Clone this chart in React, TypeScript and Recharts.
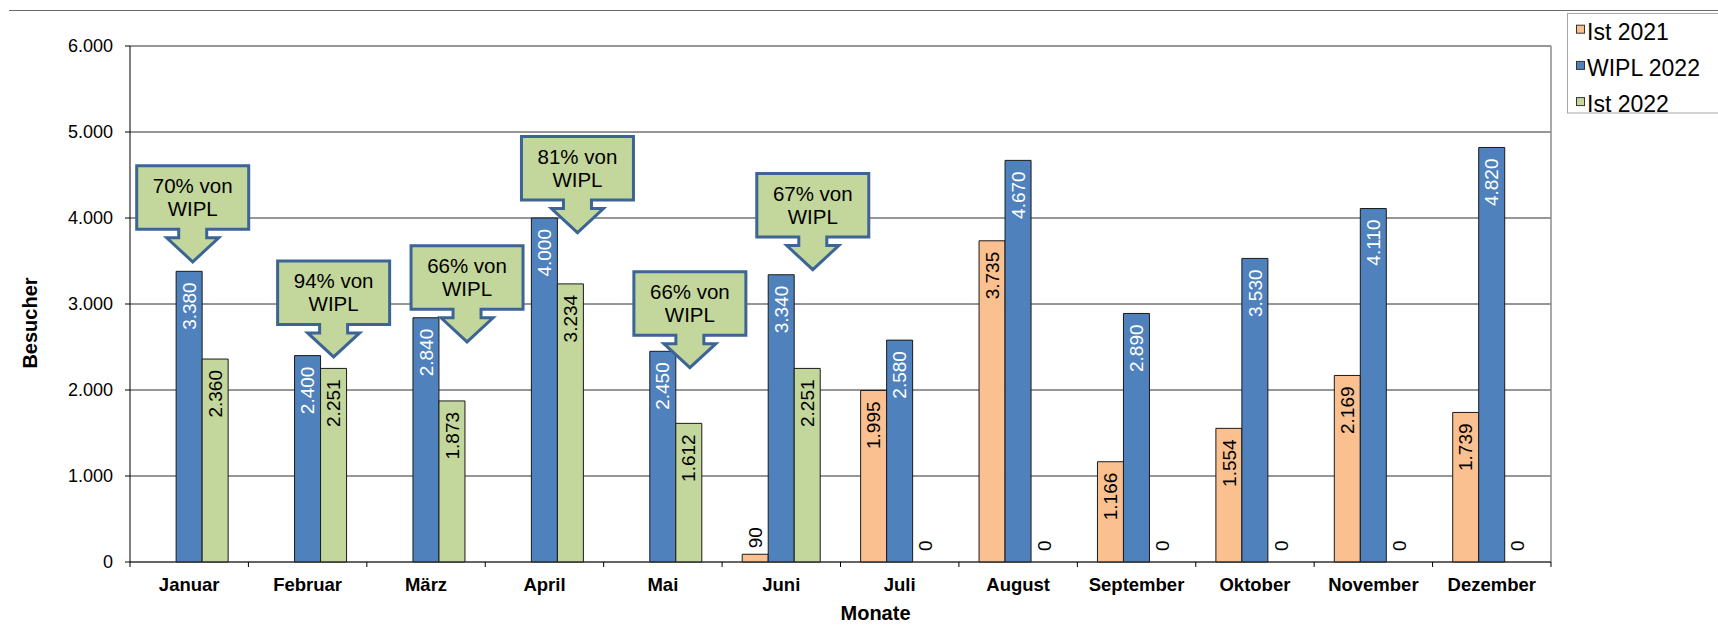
import React from 'react';
import { BarChart, Bar, XAxis, YAxis, CartesianGrid, LabelList, ReferenceDot, Label } from 'recharts';

// ---------- data ----------
const months = ['Januar', 'Februar', 'März', 'April', 'Mai', 'Juni', 'Juli', 'August', 'September', 'Oktober', 'November', 'Dezember'];
const ist2021: (number | null)[] = [null, null, null, null, null, 90, 1995, 3735, 1166, 1554, 2169, 1739];
const wipl2022: number[] = [3380, 2400, 2840, 4000, 2450, 3340, 2580, 4670, 2890, 3530, 4110, 4820];
const ist2022: (number | null)[] = [2360, 2251, 1873, 3234, 1612, 2251, 0, 0, 0, 0, 0, 0];
const yTicks = [0, 1000, 2000, 3000, 4000, 5000, 6000];
const seriesNames = ['Ist 2021', 'WIPL 2022', 'Ist 2022'];
const seriesKeys = ['ist2021', 'wipl2022', 'ist2022'];
const xTitle = 'Monate';
const yTitle = 'Besucher';
// callouts: which month, and the value (in visitors) the arrow tip points at
const calloutMonths = ['Januar', 'Februar', 'März', 'April', 'Mai', 'Juni'];
const calloutTipValues = [3490, 2385, 2560, 3830, 2260, 3400];

// ---------- styles / layout ----------
const FONT = "'Liberation Sans', Arial, Helvetica, sans-serif";
const COLORS = ['#FAC090', '#4F81BD', '#C3D69B'];
const LABEL_COLORS = ['#000', '#fff', '#000'];
const CHART_W = 1718;
const CHART_H = 627;
const MARGIN = { top: 46, right: 167, bottom: 35, left: 70 };
const Y_AXIS_W = 60;
const PLOT_W = CHART_W - MARGIN.left - Y_AXIS_W - MARGIN.right;
const CAT_GAP = 0.17;
const BAND = PLOT_W / months.length;
const BAR_W = Math.floor((BAND * (1 - 2 * CAT_GAP)) / 3);
const CALLOUT_DX = [3.5, 26, 41, 33, 27, 31.5];

const data = months.map((m, i) => ({
  month: m,
  ist2021: ist2021[i],
  wipl2022: wipl2022[i],
  ist2022: ist2022[i],
}));

const fmt = (v: number) => String(v).replace(/\B(?=(\d{3})+(?!\d))/g, '.');

const rotatedText = (cx: number, ay: number, anchor: 'start' | 'end', color: string, txt: string) => (
  <text x={cx} y={ay} transform={`rotate(-90 ${cx} ${ay})`} textAnchor={anchor} dy="0.35em"
    fill={color} fontSize={19} fontFamily={FONT}>{txt}</text>
);

const makeBarLabel = (color: string) => (props: any) => {
  const { x, y, width, height, value } = props;
  if (value === null || value === undefined || x === undefined || Number(value) === 0) return null;
  const cx = Number(x) + Number(width) / 2;
  const txt = fmt(Number(value));
  if (Math.abs(Number(height)) > 60) {
    return rotatedText(cx, Number(y) + 11, 'end', color, txt);
  }
  return rotatedText(cx, Number(y) - 6, 'start', '#000', txt);
};

// label for zero-valued bars (the bar itself has no height); seriesIndex selects the bar slot
const makeZeroLabel = (seriesIndex: number) => (p: any) => {
  const cx = Number(p.cx) + (seriesIndex - 1) * BAR_W;
  return rotatedText(cx, Number(p.cy) - 11, 'start', '#000', '0');
};

const XTick = (props: any) => {
  const { x, y, payload, index } = props;
  return (
    <g>
      <line x1={x - BAND / 2} x2={x - BAND / 2} y1={y} y2={y + 5} stroke="#000" strokeWidth={1} />
      {index === months.length - 1 && (
        <line x1={x + BAND / 2} x2={x + BAND / 2} y1={y} y2={y + 5} stroke="#000" strokeWidth={1} />
      )}
      <text x={x} y={y + 29} textAnchor="middle" fontWeight="bold" fontSize={18.5} fontFamily={FONT} fill="#000">
        {payload.value}
      </text>
    </g>
  );
};

const makeCallout = (line1: string, line2: string, dx: number) => (p: any) => {
  const tx = Number(p.cx) + dx;
  const ty = Number(p.cy);
  const W = 112, H = 63.5, SH = 8.5, HH = 24, SW = 28, HW = 52;
  const top = ty - (H + SH + HH);
  const l = tx - W / 2, r = tx + W / 2, b = top + H;
  const d = `M${l},${top} L${r},${top} L${r},${b} L${tx + SW / 2},${b} L${tx + SW / 2},${b + SH} L${tx + HW / 2},${b + SH} L${tx},${ty} L${tx - HW / 2},${b + SH} L${tx - SW / 2},${b + SH} L${tx - SW / 2},${b} L${l},${b} Z`;
  return (
    <g>
      <path d={d} fill="#C3D69B" stroke="#3C6495" strokeWidth={3} strokeLinejoin="miter" />
      <text x={tx} y={top + 27} textAnchor="middle" fontSize={20.5} fontFamily={FONT} fill="#000">{line1}</text>
      <text x={tx} y={top + 50.5} textAnchor="middle" fontSize={20.5} fontFamily={FONT} fill="#000">{line2}</text>
    </g>
  );
};

const Legendbox = () => (
  <svg width={CHART_W} height={CHART_H} style={{ position: 'absolute', left: 0, top: 0, pointerEvents: 'none' }}>
    <line x1={9} x2={CHART_W} y1={10.5} y2={10.5} stroke="#6a6a6a" strokeWidth={1.2} />
    <rect x={1567.5} y={13.5} width={170} height={99.5} fill="#fff" stroke="#a6a6a6" strokeWidth={1} />
    {seriesNames.map((n, i) => {
      const cy = 31.7 + i * 36.2;
      return (
        <g key={n}>
          <rect x={1576.5} y={cy - 6.5} width={8} height={8} fill={COLORS[i]} stroke="#333" strokeWidth={1} />
          <text x={1587} y={cy + 7.8} fontSize={23} fontFamily={FONT} fill="#000">{n}</text>
        </g>
      );
    })}
  </svg>
);

export default function App() {
  return (
    <div style={{ position: 'absolute', left: 0, top: 0, width: CHART_W, height: CHART_H, background: '#fff' }}>
      <BarChart width={CHART_W} height={CHART_H} data={data} margin={MARGIN} barCategoryGap={`${CAT_GAP * 100}%`} barGap={0}>
        <CartesianGrid vertical={false} stroke="#2e2e2e" strokeWidth={1} />
        <CartesianGrid horizontal={false} stroke="#8c8c8c" strokeWidth={1.5}
          verticalCoordinatesGenerator={(args: any) => [args.offset.left + args.offset.width]} />
        <XAxis dataKey="month" interval={0} tickLine={false} tickSize={0} tickMargin={0} height={30}
          axisLine={{ stroke: '#333' }} tick={<XTick />}>
          <Label content={(p: any) => {
            const vb = p.viewBox || {};
            return (
              <text x={vb.x + vb.width / 2 + 35} y={vb.y + 58} textAnchor="middle" fontWeight="bold"
                fontSize={20} fontFamily={FONT} fill="#000">{xTitle}</text>
            );
          }} />
        </XAxis>
        <YAxis width={Y_AXIS_W} domain={[0, 6000]} ticks={yTicks} interval={0} tickFormatter={fmt}
          tickSize={5} tickMargin={12} axisLine={{ stroke: '#000' }} tickLine={{ stroke: '#000' }}
          tick={{ fontSize: 18, fontFamily: FONT, fill: '#000' }}>
          <Label content={(p: any) => {
            const vb = p.viewBox || {};
            const x = vb.x - 40;
            const y = vb.y + vb.height / 2 + 19;
            return (
              <text x={x} y={y} transform={`rotate(-90 ${x} ${y})`} textAnchor="middle" dy="0.35em"
                fontWeight="bold" fontSize={20} fontFamily={FONT} fill="#000">{yTitle}</text>
            );
          }} />
        </YAxis>
        {seriesKeys.map((k, i) => (
          <Bar key={k} dataKey={k} name={seriesNames[i]} fill={COLORS[i]} stroke="#1a1a1a" strokeWidth={1}
            isAnimationActive={false}>
            <LabelList dataKey={k} content={makeBarLabel(LABEL_COLORS[i])} />
          </Bar>
        ))}
        {months.map((m, i) => (ist2022[i] === 0 ? (
          <ReferenceDot key={`z-${m}`} x={m} y={0} r={0} ifOverflow="visible" shape={makeZeroLabel(2)} />
        ) : null))}
        {calloutMonths.map((m, i) => {
          const mi = months.indexOf(m);
          const pct = Math.round(((ist2022[mi] as number) / wipl2022[mi]) * 100);
          return (
            <ReferenceDot key={m} x={m} y={calloutTipValues[i]} r={0} ifOverflow="visible"
              shape={makeCallout(`${pct}% von`, 'WIPL', CALLOUT_DX[i])} />
          );
        })}
      </BarChart>
      <Legendbox />
    </div>
  );
}
